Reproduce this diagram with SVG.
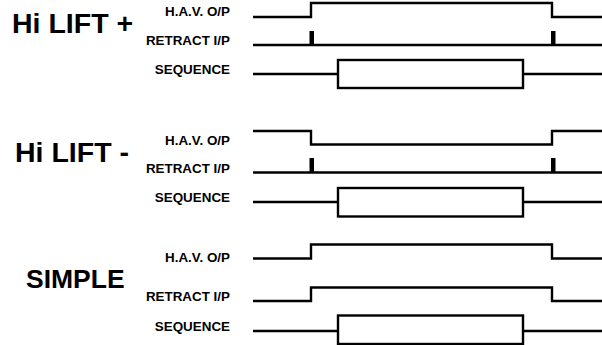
<svg xmlns="http://www.w3.org/2000/svg" width="602" height="345" viewBox="0 0 602 345">
<style>
.t{font-family:"Liberation Sans",Arial,sans-serif;font-weight:bold;fill:#000}
.big{font-size:28.5px}
.lbl{font-size:13.4px;text-anchor:end}
.w{fill:none;stroke:#000;stroke-width:2.4;stroke-linejoin:miter;stroke-linecap:butt}
.p{fill:#000}
</style>
<rect width="602" height="345" fill="#fff"/>
<g id="hilift-plus">
<text class="t big" x="12" y="33">Hi LIFT +</text>
<text class="t lbl" x="230" y="16">H.A.V. O/P</text>
<text class="t lbl" x="230" y="45">RETRACT I/P</text>
<text class="t lbl" x="230" y="74">SEQUENCE</text>
</g>
<g id="hilift-minus">
<text class="t big" x="15" y="162">Hi LIFT -</text>
<text class="t lbl" x="230" y="145">H.A.V. O/P</text>
<text class="t lbl" x="230" y="173">RETRACT I/P</text>
<text class="t lbl" x="230" y="202">SEQUENCE</text>
</g>
<g id="simple">
<text class="t big" x="26" y="288" style="font-size:26.5px">SIMPLE</text>
<text class="t lbl" x="230" y="262">H.A.V. O/P</text>
<text class="t lbl" x="230" y="301">RETRACT I/P</text>
<text class="t lbl" x="230" y="331">SEQUENCE</text>
</g>
<g id="waveforms">
<path class="w" d="M253 17H311V3H552V17H602"/>
<path class="w" d="M253 45H602"/>
<rect class="p" x="309.5" y="31" width="4.5" height="14"/>
<rect class="p" x="551" y="31" width="4.5" height="14"/>
<path class="w" d="M253 74H338M523 74H602"/>
<rect class="w" x="338" y="60" width="185" height="28"/>

<path class="w" d="M253 131H311V144.5H552V131H602"/>
<path class="w" d="M253 172.5H602"/>
<rect class="p" x="309.5" y="158" width="4.5" height="14"/>
<rect class="p" x="551" y="158" width="4.5" height="14"/>
<path class="w" d="M253 202H338M523 202H602"/>
<rect class="w" x="338" y="188" width="185" height="28.5"/>

<path class="w" d="M253 258.5H311V244.5H552V258.5H602"/>
<path class="w" d="M253 301H311V287.5H552V301H602"/>
<path class="w" d="M253 331H338M523 331H602"/>
<rect class="w" x="338" y="315.5" width="185" height="28.5"/>
</g>
</svg>
